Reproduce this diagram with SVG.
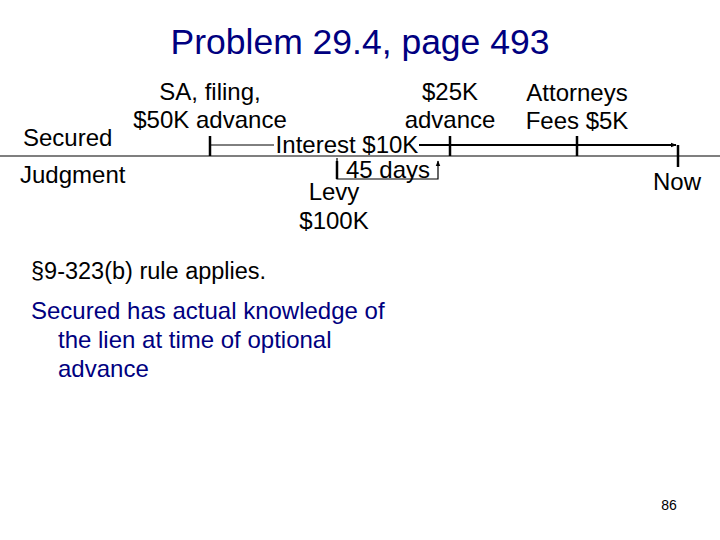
<svg xmlns="http://www.w3.org/2000/svg" width="720" height="540" viewBox="0 0 720 540">
<defs>
<marker id="ah" viewBox="0 0 10 10" refX="9" refY="5" markerWidth="6" markerHeight="6" orient="auto" markerUnits="userSpaceOnUse">
<path d="M0,1 L10,5 L0,9 z" fill="#000"/>
</marker>
<style>
text{font-family:"Liberation Sans",Arial,sans-serif;fill:#000}
.lb{font-size:24px}
.mid{text-anchor:middle}
.blue{fill:#000080}
.ln{stroke:#000;fill:none}
</style>
</defs>
<rect width="720" height="540" fill="#fff"/>
<text x="360" y="54" class="mid blue" font-size="35.5">Problem 29.4, page 493</text>
<g id="timeline">
<line class="ln" x1="0" y1="156" x2="720" y2="156" stroke-width="1.2"/>
</g>
<g id="connectors">
<line class="ln" x1="210" y1="145" x2="274" y2="145" stroke-width="1"/>
<line class="ln" x1="419" y1="145" x2="676" y2="145" stroke-width="1.8" marker-end="url(#ah)"/>
<polyline class="ln" points="337,158 337,179 438,179 438,161" stroke-width="1.2" marker-end="url(#ah)"/>
<line class="ln" x1="337" y1="161" x2="337" y2="179" stroke-width="2.5"/>
</g>
<g id="ticks">
<line class="ln" x1="210" y1="136" x2="210" y2="156" stroke-width="2.5"/>
<line class="ln" x1="450" y1="136" x2="450" y2="156" stroke-width="2.5"/>
<line class="ln" x1="577" y1="136" x2="577" y2="156" stroke-width="2.5"/>
<line class="ln" x1="678" y1="145" x2="678" y2="167" stroke-width="2.5"/>
</g>
<g id="secured"><text x="23" y="146" class="lb">Secured</text></g>
<g id="judgment"><text x="20" y="183" class="lb">Judgment</text></g>
<g id="sa-filing">
<text x="210" y="100" class="lb mid">SA, filing,</text>
<text x="210" y="128" class="lb mid">$50K advance</text>
</g>
<g id="interest"><text x="347" y="153" class="lb mid">Interest $10K</text></g>
<g id="days45"><text x="388" y="177.5" class="lb mid">45 days</text></g>
<g id="levy">
<text x="334" y="200" class="lb mid">Levy</text>
<text x="334" y="229" class="lb mid">$100K</text>
</g>
<g id="advance25">
<text x="450" y="100" class="lb mid">$25K</text>
<text x="450" y="128" class="lb mid">advance</text>
</g>
<g id="attorneys">
<text x="577" y="101" class="lb mid">Attorneys</text>
<text x="577" y="129" class="lb mid">Fees $5K</text>
</g>
<g id="now"><text x="677" y="190" class="lb mid">Now</text></g>
<text x="31" y="279" font-size="23.5">§9-323(b) rule applies.</text>
<text x="31" y="319" font-size="24" class="blue">Secured has actual knowledge of</text>
<text x="58" y="348" font-size="24" class="blue">the lien at time of optional</text>
<text x="58" y="377" font-size="24" class="blue">advance</text>
<text x="669" y="510" font-size="14" class="mid">86</text>
</svg>
